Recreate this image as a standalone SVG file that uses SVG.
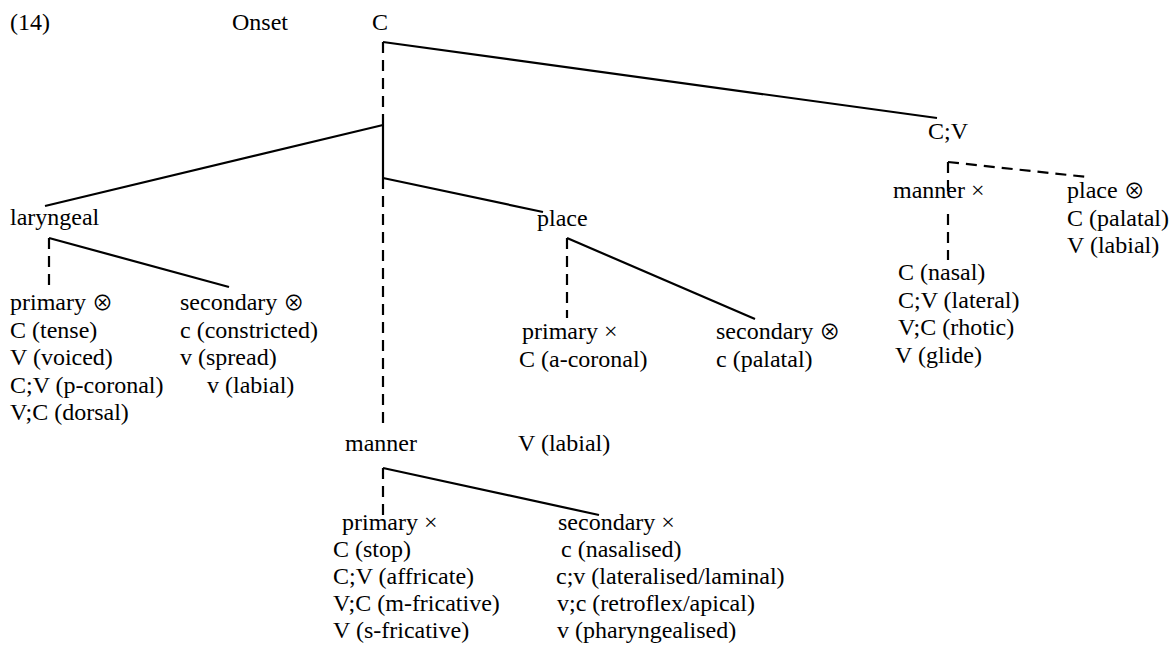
<svg xmlns="http://www.w3.org/2000/svg" width="1173" height="651" viewBox="0 0 1173 651">
  <style>
    .solid { stroke: #000; stroke-width: 2.2; fill: none; }
    .dash { stroke: #000; stroke-width: 2.2; fill: none; stroke-dasharray: 11 7; }
    .otimes { font-family: "Noto Sans CJK JP", "DejaVu Sans", sans-serif; font-size: 21px; }
  </style>
  <rect width="1173" height="651" fill="#fff"/>

  <!-- connectors -->
  <g id="connectors">
    <line class="dash" x1="383" y1="42" x2="383" y2="125"/>
    <line class="solid" x1="383" y1="42" x2="937" y2="118"/>
    <line class="solid" x1="383" y1="125" x2="45" y2="206"/>
    <line class="solid" x1="383" y1="125" x2="383" y2="178"/>
    <line class="solid" x1="383" y1="178" x2="543" y2="212"/>
    <line class="dash" x1="383" y1="178" x2="383" y2="424"/>
    <line class="dash" x1="49" y1="238" x2="49" y2="287"/>
    <line class="solid" x1="49" y1="238" x2="229" y2="287"/>
    <line class="dash" x1="567" y1="238" x2="567" y2="318"/>
    <line class="solid" x1="567" y1="238" x2="755" y2="319"/>
    <line class="dash" x1="383" y1="468" x2="383" y2="515"/>
    <line class="solid" x1="383" y1="468" x2="599" y2="515"/>
    <line class="dash" x1="948" y1="162" x2="1087" y2="177"/>
    <line class="dash" x1="948" y1="162" x2="948" y2="192"/>
    <line class="dash" x1="948" y1="214" x2="948" y2="260"/>
  </g>

  <g font-family="Liberation Serif, Times New Roman, DejaVu Serif, serif" font-size="24" fill="#000">
    <g id="label">
      <text x="10" y="30">(14)</text>
      <text x="232" y="30">Onset</text>
    </g>

    <g id="node-C"><text x="372" y="30">C</text></g>
    <g id="node-CV"><text x="928" y="139">C;V</text></g>
    <g id="node-laryngeal"><text x="10" y="225">laryngeal</text></g>
    <g id="node-place"><text x="537" y="226">place</text></g>
    <g id="node-manner"><text x="345" y="451">manner</text></g>
    <g id="node-v-labial"><text x="518" y="451">V (labial)</text></g>

    <g id="node-laryngeal-primary">
      <text x="10" y="310">primary <tspan class="otimes">⊗</tspan></text>
      <text x="10" y="337.5">C (tense)</text>
      <text x="10" y="365">V (voiced)</text>
      <text x="10" y="392.5">C;V (p-coronal)</text>
      <text x="10" y="420">V;C (dorsal)</text>
    </g>
    <g id="node-laryngeal-secondary">
      <text x="180" y="310">secondary <tspan class="otimes">⊗</tspan></text>
      <text x="180" y="337.5">c (constricted)</text>
      <text x="180" y="365">v (spread)</text>
      <text x="207" y="392.5">v (labial)</text>
    </g>

    <g id="node-place-primary">
      <text x="522" y="339">primary ×</text>
      <text x="519" y="367">C (a-coronal)</text>
    </g>
    <g id="node-place-secondary">
      <text x="716" y="339">secondary <tspan class="otimes">⊗</tspan></text>
      <text x="716" y="367">c (palatal)</text>
    </g>

    <g id="node-manner-primary">
      <text x="342" y="530">primary ×</text>
      <text x="333" y="557">C (stop)</text>
      <text x="333" y="584">C;V (affricate)</text>
      <text x="333" y="611">V;C (m-fricative)</text>
      <text x="333" y="638">V (s-fricative)</text>
    </g>
    <g id="node-manner-secondary">
      <text x="558" y="530">secondary ×</text>
      <text x="561" y="557">c (nasalised)</text>
      <text x="556" y="584">c;v (lateralised/laminal)</text>
      <text x="557" y="611">v;c (retroflex/apical)</text>
      <text x="557" y="638">v (pharyngealised)</text>
    </g>

    <g id="node-cv-manner">
      <text x="893" y="198">manner ×</text>
    </g>
    <g id="node-cv-manner-list">
      <text x="898" y="280">C (nasal)</text>
      <text x="898" y="307.5">C;V (lateral)</text>
      <text x="898" y="335">V;C (rhotic)</text>
      <text x="895" y="362.5">V (glide)</text>
    </g>
    <g id="node-cv-place">
      <text x="1067" y="198">place <tspan class="otimes">⊗</tspan></text>
      <text x="1067" y="226">C (palatal)</text>
      <text x="1067" y="253">V (labial)</text>
    </g>
  </g>
</svg>
